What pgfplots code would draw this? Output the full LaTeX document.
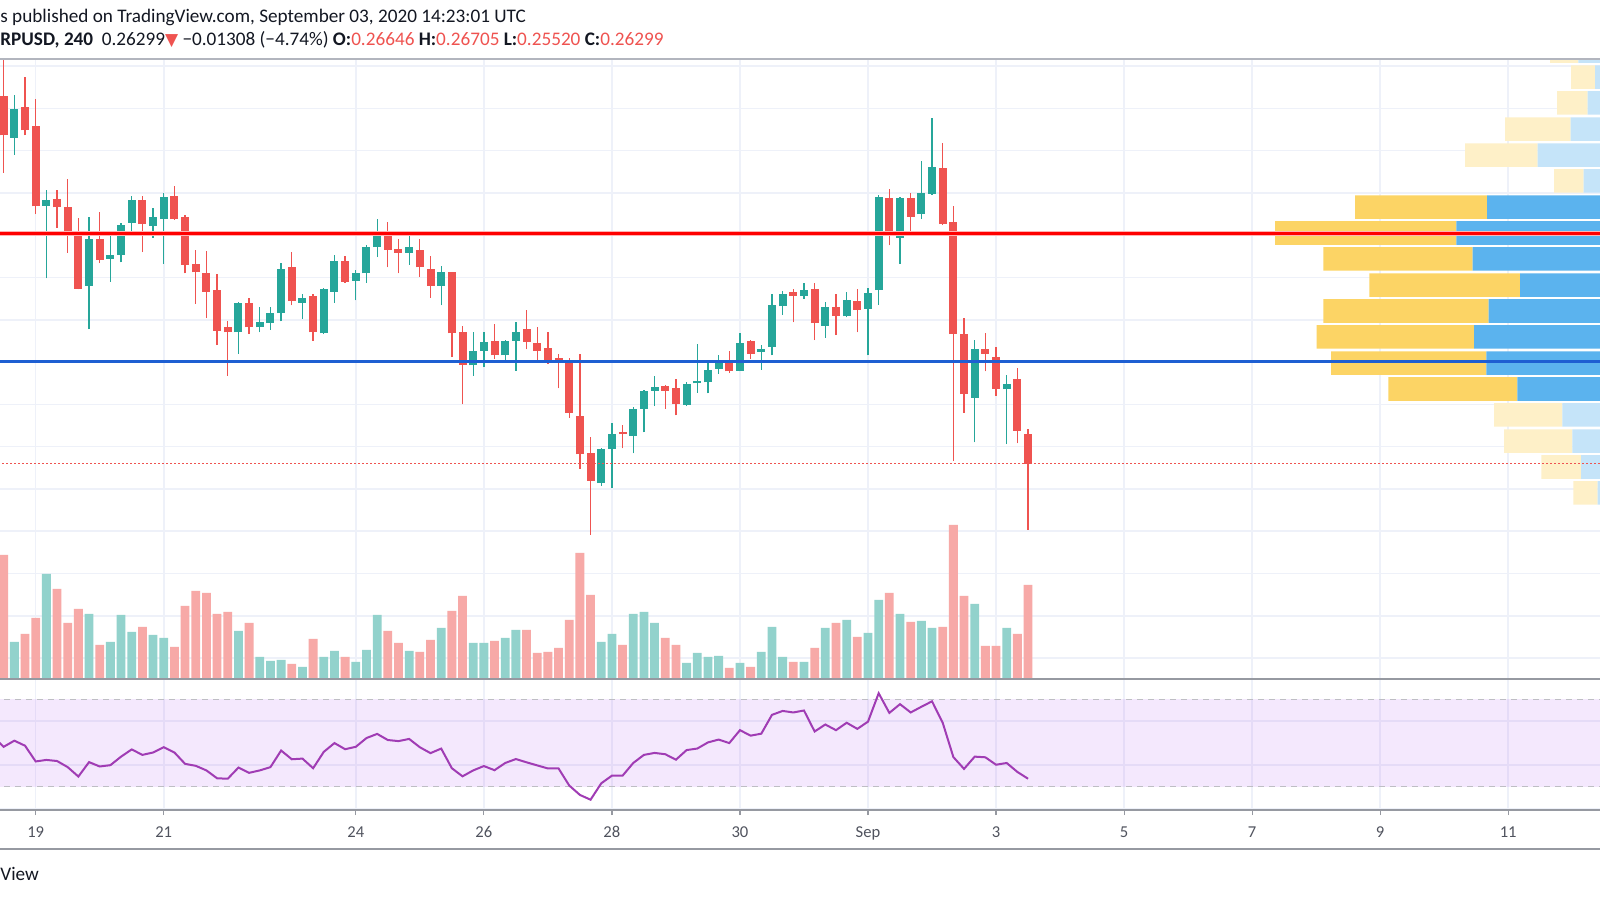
\documentclass[border=0pt]{standalone}
\usepackage{fontspec}
\setmainfont{Carlito}
\newfontfamily\symfont{DejaVu Sans}
\usepackage{pgfplots}
\usepackage{pgfplotstable}
\pgfplotsset{compat=1.18}

\definecolor{tvgreen}{RGB}{38,166,154}
\definecolor{tvred}{RGB}{239,83,80}
\definecolor{volgreen}{RGB}{146,210,204}
\definecolor{volred}{RGB}{247,169,167}
\definecolor{vpy}{RGB}{252,212,101}
\definecolor{vpb}{RGB}{91,179,238}
\definecolor{vpyl}{RGB}{254,240,200}
\definecolor{vpbl}{RGB}{197,228,249}
\definecolor{gridc}{RGB}{238,241,249}
\definecolor{topc}{RGB}{178,181,190}
\definecolor{sepc}{RGB}{150,153,161}
\definecolor{txt}{RGB}{19,23,34}
\definecolor{scaletxt}{RGB}{80,83,94}
\definecolor{rsiline}{RGB}{160,60,180}
\definecolor{rsifill}{RGB}{163,47,238}
\definecolor{dashc}{RGB}{190,190,196}
\definecolor{resist}{RGB}{255,0,0}
\definecolor{support}{RGB}{30,95,210}

% 4h candles, x = hours from 19 Aug 00:00 UTC
\pgfplotstableread{
x o h l c v
-8 0.3015 0.3066 0.2995 0.3049 37
4 0.2935 0.2953 0.2849 0.2942 105
20 0.2840 0.2921 0.2789 0.2896 65
28 0.2872 0.2900 0.2845 0.2877 37
32 0.2877 0.2915 0.2868 0.2912 64
36 0.2915 0.2946 0.2902 0.2942 47
44 0.2911 0.2932 0.2897 0.2922 44
48 0.2919 0.2950 0.2866 0.2945 41
76 0.2785 0.2821 0.2760 0.2820 48
84 0.2791 0.2815 0.2785 0.2797 22
88 0.2796 0.2815 0.2788 0.2808 18
92 0.2808 0.2867 0.2798 0.2860 19
100 0.2820 0.2830 0.2801 0.2826 12
108 0.2784 0.2838 0.2783 0.2836 22
112 0.2833 0.2877 0.2820 0.2870 28
120 0.2846 0.2859 0.2823 0.2855 17
124 0.2855 0.2888 0.2844 0.2886 29
128 0.2886 0.2919 0.2874 0.2902 64
140 0.2879 0.2899 0.2865 0.2886 28
152 0.2840 0.2864 0.2817 0.2856 51
164 0.2746 0.2785 0.2734 0.2763 36
168 0.2763 0.2785 0.2744 0.2774 36
176 0.2758 0.2776 0.2749 0.2775 41
180 0.2775 0.2797 0.2740 0.2786 49
212 0.2607 0.2649 0.2604 0.2647 37
216 0.2647 0.2678 0.2601 0.2665 45
224 0.2663 0.2697 0.2642 0.2695 65
228 0.2695 0.2717 0.2667 0.2716 67
232 0.2716 0.2733 0.2698 0.2720 56
244 0.2699 0.2726 0.2698 0.2724 16
248 0.2725 0.2771 0.2714 0.2728 26
252 0.2726 0.2750 0.2713 0.2741 22
256 0.2742 0.2758 0.2736 0.2749 23
264 0.2740 0.2784 0.2739 0.2772 16
272 0.2762 0.2770 0.2741 0.2766 27
276 0.2768 0.2830 0.2758 0.2817 52
280 0.2816 0.2834 0.2806 0.2831 22
288 0.2828 0.2844 0.2825 0.2835 17
296 0.2793 0.2821 0.2779 0.2815 51
304 0.2804 0.2833 0.2803 0.2823 59
312 0.2813 0.2838 0.2758 0.2832 46
316 0.2835 0.2948 0.2818 0.2945 79
324 0.2897 0.2945 0.2866 0.2944 65
332 0.2925 0.2988 0.2919 0.2950 58
336 0.2949 0.3038 0.2948 0.2981 51
352 0.2708 0.2776 0.2655 0.2766 75
364 0.2718 0.2735 0.2653 0.2724 51
}\upbars

\pgfplotstableread{
x o h l c v
-12 0.3065 0.3107 0.2974 0.3018 124
-4 0.3052 0.3087 0.3018 0.3024 45
0 0.3029 0.3061 0.2925 0.2934 61
8 0.2943 0.2953 0.2909 0.2933 90
12 0.2933 0.2967 0.2879 0.2902 56
16 0.2902 0.2920 0.2836 0.2837 70
24 0.2896 0.2927 0.2867 0.2871 34
40 0.2942 0.2946 0.2880 0.2913 52
52 0.2946 0.2958 0.2918 0.2919 32
56 0.2922 0.2924 0.2855 0.2865 73
60 0.2866 0.2883 0.2819 0.2856 88
64 0.2855 0.2881 0.2802 0.2833 86
68 0.2835 0.2854 0.2770 0.2787 65
72 0.2791 0.2798 0.2734 0.2785 67
80 0.2820 0.2826 0.2783 0.2791 56
96 0.2862 0.2880 0.2817 0.2822 15
104 0.2828 0.2830 0.2775 0.2785 40
116 0.2870 0.2875 0.2844 0.2845 22
132 0.2905 0.2916 0.2862 0.2883 48
136 0.2884 0.2895 0.2855 0.2879 36
144 0.2883 0.2896 0.2851 0.2862 27
148 0.2860 0.2875 0.2826 0.2840 39
156 0.2856 0.2857 0.2756 0.2784 68
160 0.2785 0.2793 0.2700 0.2747 83
172 0.2775 0.2795 0.2754 0.2758 38
184 0.2789 0.2812 0.2765 0.2774 49
188 0.2773 0.2792 0.2752 0.2763 26
192 0.2767 0.2785 0.2748 0.2752 27
196 0.2755 0.2760 0.2719 0.2753 31
200 0.2753 0.2755 0.2684 0.2690 59
204 0.2686 0.2760 0.2624 0.2641 126
208 0.2643 0.2662 0.2546 0.2610 84
220 0.2667 0.2676 0.2648 0.2665 34
236 0.2722 0.2723 0.2695 0.2716 41
240 0.2719 0.2730 0.2687 0.2700 34
260 0.2750 0.2763 0.2737 0.2739 11
268 0.2775 0.2776 0.2754 0.2760 12
284 0.2833 0.2837 0.2797 0.2828 17
292 0.2836 0.2844 0.2776 0.2796 31
300 0.2815 0.2830 0.2782 0.2805 56
308 0.2822 0.2836 0.2785 0.2812 42
320 0.2944 0.2955 0.2888 0.2899 86
328 0.2944 0.2950 0.2901 0.2922 57
340 0.2979 0.3009 0.2912 0.2913 52
344 0.2916 0.2935 0.2633 0.2783 154
348 0.2783 0.2802 0.2690 0.2712 83
356 0.2765 0.2784 0.2739 0.2760 33
360 0.2756 0.2768 0.2710 0.2718 33
368 0.2730 0.2743 0.2654 0.2669 45
372 0.26646 0.26705 0.25520 0.26299 94
}\downbars

\pgfplotstableread{
x r
-16 52.9
-12 48.3
-8 51.1
-4 48.8
0 41.6
4 42.3
8 41.8
12 39.0
16 34.7
20 41.3
24 39.3
28 39.9
32 43.8
36 47.1
40 44.6
44 45.7
48 48.1
52 45.7
56 40.5
60 39.6
64 37.5
68 33.9
72 33.7
76 38.8
80 36.4
84 37.5
88 39.0
92 46.6
96 42.6
100 42.9
104 38.5
108 46.0
112 50.0
116 47.2
120 48.3
124 52.3
128 54.2
132 51.4
136 50.9
140 51.9
144 48.1
148 45.4
152 47.5
156 38.5
160 34.8
164 37.5
168 39.5
172 37.6
176 40.9
180 42.7
184 41.2
188 39.8
192 38.4
196 38.4
200 30.6
204 26.3
208 24.1
212 31.6
216 35.1
220 35.1
224 40.9
228 44.6
232 45.5
236 44.9
240 42.4
244 46.8
248 47.5
252 50.3
256 51.6
260 50.0
264 55.9
268 53.4
272 54.3
276 62.9
280 64.7
284 64.0
288 64.9
292 55.3
296 58.5
300 55.9
304 59.3
308 56.5
312 59.8
316 72.8
320 63.8
324 67.8
328 64.0
332 66.6
336 69.1
340 59.3
344 43.6
348 38.2
352 43.8
356 43.5
360 40.1
364 40.9
368 36.8
372 33.7
}\rsi

% volume profile rows: price, up/down volume inside (o) and outside (l) the value area
\pgfplotstableread{
y bo bl yo yl
0.31177 0 21.7 0 28.3
0.30870 0 5.0 0 24.0
0.30563 0 12.3 0 30.7
0.30255 0 29.3 0 65.7
0.29948 0 62.3 0 72.7
0.29641 0 16.3 0 29.7
0.29333 113.0 0 132.0 0
0.29026 143.7 0 181.3 0
0.28719 127.3 0 149.4 0
0.28411 80.0 0 150.7 0
0.28104 111.3 0 165.4 0
0.27797 126.0 0 157.3 0
0.27489 113.7 0 155.3 0
0.27182 82.7 0 129.0 0
0.26875 0 37.7 0 68.3
0.26567 0 27.7 0 68.3
0.26260 0 19.0 0 39.7
0.25953 0 2.3 0 24.4
}\vpvr

\pgfplotsset{
  pane/.style={scale only axis, width=800pt, xmin=-13.38, xmax=586.4},
  price/.style={pane, height=310pt, at={(0pt,110.5pt)}, anchor=south west,
    ymin=0.23754, ymax=0.31083},
  days/.style={xtick={0,48,120,168,216,264,312,360,408,456,504,552}},
  wick/.style={draw=none, mark=none, error bars/.cd, y dir=plus, y explicit,
    error mark=none, error bar style={draw=#1, line width=0.65pt, line cap=butt}},
  body/.style={draw=none, mark=none, error bars/.cd, y dir=plus, y explicit,
    error mark=none, error bar style={draw=#1, line width=4pt, line cap=butt}},
}

\begin{document}
\begin{tikzpicture}
\path[use as bounding box] (0pt,0pt) rectangle (800pt,450pt);
\fill[white] (0pt,0pt) rectangle (800pt,450pt);

% price pane grid
\begin{axis}[price, days,
  axis line style={draw=none},
  ytick={0.24,0.245,0.25,0.255,0.26,0.265,0.27,0.275,0.28,0.285,0.29,0.295,0.3,0.305,0.31},
  xticklabel=\empty, yticklabel=\empty, major tick length=0pt,
  xmajorgrids, ymajorgrids, grid style={gridc, line width=0.8pt}]
\addplot[draw=none] coordinates {(0,0.27)};
\end{axis}

% visible range volume profile
\begin{axis}[price, hide axis, x dir=reverse, xmin=0, xmax=1600,
  xbar stacked, bar width=0.00278]
\addplot[fill=vpb, draw=none] table[x=bo, y=y] {\vpvr};
\addplot[fill=vpbl, draw=none] table[x=bl, y=y] {\vpvr};
\addplot[fill=vpy, draw=none] table[x=yo, y=y] {\vpvr};
\addplot[fill=vpyl, draw=none] table[x=yl, y=y] {\vpvr};
\end{axis}

% volume
\begin{axis}[price, hide axis, ymin=0, ymax=620]
\addplot[ybar, bar width=4.4pt, bar shift=0pt, fill=volgreen, draw=none] table[x=x, y=v] {\upbars};
\addplot[ybar, bar width=4.4pt, bar shift=0pt, fill=volred, draw=none] table[x=x, y=v] {\downbars};
\end{axis}

% candles and levels
\begin{axis}[price, hide axis]
\addplot[wick=tvgreen] table[x=x, y=l, y error expr=\thisrow{h}-\thisrow{l}] {\upbars};
\addplot[body=tvgreen] table[x=x, y=o, y error expr=\thisrow{c}-\thisrow{o}] {\upbars};
\addplot[wick=tvred] table[x=x, y=l, y error expr=\thisrow{h}-\thisrow{l}] {\downbars};
\addplot[body=tvred] table[x=x, y=c, y error expr=\thisrow{o}-\thisrow{c}] {\downbars};
\addplot[red!30, line width=2.4pt] coordinates {(-20,0.2902) (600,0.2902)};
\addplot[resist, line width=1.4pt] coordinates {(-20,0.2902) (600,0.2902)};
\addplot[support, line width=1.5pt] coordinates {(-20,0.2751) (600,0.2751)};
\addplot[tvred, line width=0.5pt, dash pattern=on 0.7pt off 1.3pt] coordinates {(-20,0.26299) (600,0.26299)};
\end{axis}

% RSI pane with time scale
\begin{axis}[pane, days, height=65.5pt, at={(0pt,45pt)}, anchor=south west,
  ymin=19.4, ymax=79.3,
  axis line style={draw=none},
  xticklabels={19,21,24,26,28,30,Sep,3,5,7,9,11},
  ytick={20,40,60}, yticklabel=\empty,
  xmajorgrids, ymajorgrids, grid style={gridc, line width=0.8pt},
  xtick pos=bottom, ytick pos=left, tick align=outside, major tick length=2.5pt,
  xtick style={draw=sepc, line width=0.6pt}, ytick style={draw=none},
  xticklabel style={font=\fontsize{8.3}{9}\selectfont, text=scaletxt, anchor=base, yshift=-11pt}]
\fill[rsifill, fill opacity=0.11] (axis cs:-20,30) rectangle (axis cs:600,70);
\addplot[dashc, line width=0.6pt, dash pattern=on 3pt off 2.5pt] coordinates {(-20,70) (600,70)};
\addplot[dashc, line width=0.6pt, dash pattern=on 3pt off 2.5pt] coordinates {(-20,30) (600,30)};
\addplot[rsiline, line width=1pt] table[x=x, y=r] {\rsi};
\end{axis}

% pane borders
\draw[topc, line width=0.8pt] (0pt,420.5pt) -- (800pt,420.5pt);
\draw[sepc, line width=1pt] (0pt,110.5pt) -- (800pt,110.5pt);
\draw[sepc, line width=1pt] (0pt,45pt) -- (800pt,45pt);
\draw[sepc, line width=1pt] (0pt,25.5pt) -- (800pt,25.5pt);

% header
\node[anchor=base west, inner sep=0pt, text=txt, font=\fontsize{9.6}{11}\selectfont]
  at (0pt,438.5pt) {s published on TradingView.com, September 03, 2020 14:23:01 UTC};
\node[anchor=base west, inner sep=0pt, text=txt, font=\fontsize{9.6}{11}\selectfont]
  at (0pt,427pt) {\textbf{RPUSD, 240}\ \ 0.26299{\color{tvred}\symfont\fontsize{8.5}{9}\selectfont ▼}\ −0.01308 (−4.74\%)\ \textbf{O:}{\color{tvred}0.26646}\ \textbf{H:}{\color{tvred}0.26705}\ \textbf{L:}{\color{tvred}0.25520}\ \textbf{C:}{\color{tvred}0.26299}};
\node[anchor=base west, inner sep=0pt, text=txt, font=\fontsize{9.6}{11}\selectfont]
  at (0pt,9.7pt) {View};
\end{tikzpicture}
\end{document}
